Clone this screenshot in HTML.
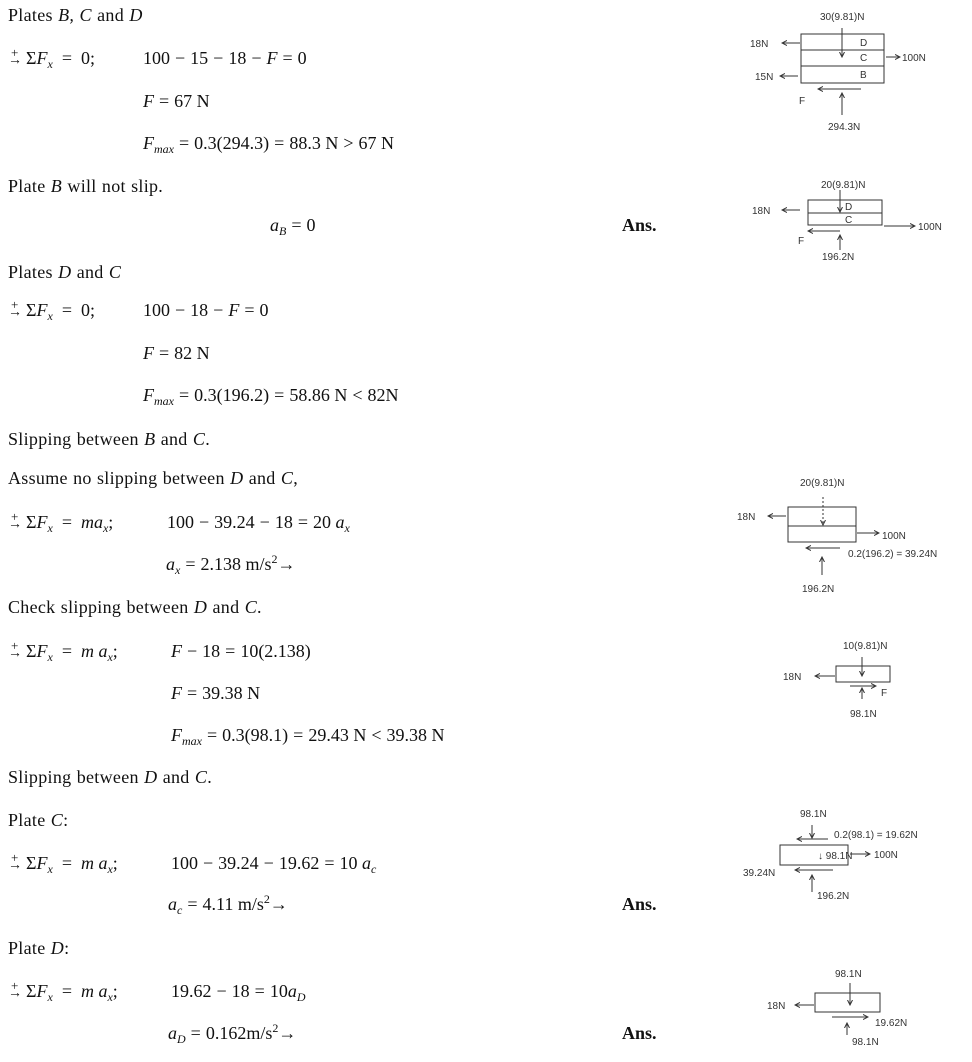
<!DOCTYPE html>
<html><head><meta charset="utf-8"><style>
body{margin:0;width:972px;height:1062px;background:#fff;position:relative;overflow:hidden;font-family:"Liberation Serif",serif;font-size:18px;color:#111}
.t{position:absolute;white-space:nowrap;line-height:22px}
.p{letter-spacing:0.3px;word-spacing:0.5px}
i{font-style:italic}
sub{font-size:12px;vertical-align:-4px;line-height:0}
sup{font-size:12px;line-height:0}
.o{margin:0 5px}
.l .o{margin:0 9px}
.sym{position:relative;display:inline-block;width:18px;font-size:14px}
.sym:before{content:"+";position:absolute;left:3px;top:-8px;font-size:13px}
b{font-weight:bold}
svg{position:absolute;left:0;top:0}
svg text{font-family:"Liberation Sans",sans-serif;font-size:10px;fill:#333}
</style></head><body>
<div class="t p" style="left:8px;top:4px">Plates <i>B, C</i> and <i>D</i></div>
<div class="t l" style="left:8px;top:47px"><span class="sym">→</span>Σ<i>F<sub>x</sub></i><span class="o">=</span>0;</div>
<div class="t" style="left:143px;top:47px">100<span class="o">−</span>15<span class="o">−</span>18<span class="o">−</span><i>F</i><span class="o">=</span>0</div>
<div class="t" style="left:143px;top:90px"><i>F</i><span class="o">=</span>67 N</div>
<div class="t" style="left:143px;top:132px"><i>F<sub>max</sub></i><span class="o">=</span>0.3(294.3)<span class="o">=</span>88.3 N<span class="o">&gt;</span>67 N</div>
<div class="t p" style="left:8px;top:175px">Plate <i>B</i> will not slip.</div>
<div class="t" style="left:270px;top:214px"><i>a<sub>B</sub></i><span class="o">=</span>0</div>
<div class="t" style="left:622px;top:214px"><b>Ans.</b></div>
<div class="t p" style="left:8px;top:261px">Plates <i>D</i> and <i>C</i></div>
<div class="t l" style="left:8px;top:299px"><span class="sym">→</span>Σ<i>F<sub>x</sub></i><span class="o">=</span>0;</div>
<div class="t" style="left:143px;top:299px">100<span class="o">−</span>18<span class="o">−</span><i>F</i><span class="o">=</span>0</div>
<div class="t" style="left:143px;top:342px"><i>F</i><span class="o">=</span>82 N</div>
<div class="t" style="left:143px;top:384px"><i>F<sub>max</sub></i><span class="o">=</span>0.3(196.2)<span class="o">=</span>58.86 N<span class="o">&lt;</span>82N</div>
<div class="t p" style="left:8px;top:428px">Slipping between <i>B</i> and <i>C</i>.</div>
<div class="t p" style="left:8px;top:467px">Assume no slipping between <i>D</i> and <i>C</i>,</div>
<div class="t l" style="left:8px;top:511px"><span class="sym">→</span>Σ<i>F<sub>x</sub></i><span class="o">=</span><i>ma<sub>x</sub></i>;</div>
<div class="t" style="left:167px;top:511px">100<span class="o">−</span>39.24<span class="o">−</span>18<span class="o">=</span>20 <i>a<sub>x</sub></i></div>
<div class="t" style="left:166px;top:553px"><i>a<sub>x</sub></i><span class="o">=</span>2.138 m/s<sup>2</sup>→</div>
<div class="t p" style="left:8px;top:596px">Check slipping between <i>D</i> and <i>C</i>.</div>
<div class="t l" style="left:8px;top:640px"><span class="sym">→</span>Σ<i>F<sub>x</sub></i><span class="o">=</span><i>m a<sub>x</sub></i>;</div>
<div class="t" style="left:171px;top:640px"><i>F</i><span class="o">−</span>18<span class="o">=</span>10(2.138)</div>
<div class="t" style="left:171px;top:682px"><i>F</i><span class="o">=</span>39.38 N</div>
<div class="t" style="left:171px;top:724px"><i>F<sub>max</sub></i><span class="o">=</span>0.3(98.1)<span class="o">=</span>29.43 N<span class="o">&lt;</span>39.38 N</div>
<div class="t p" style="left:8px;top:766px">Slipping between <i>D</i> and <i>C</i>.</div>
<div class="t p" style="left:8px;top:809px">Plate <i>C</i>:</div>
<div class="t l" style="left:8px;top:852px"><span class="sym">→</span>Σ<i>F<sub>x</sub></i><span class="o">=</span><i>m a<sub>x</sub></i>;</div>
<div class="t" style="left:171px;top:852px">100<span class="o">−</span>39.24<span class="o">−</span>19.62<span class="o">=</span>10 <i>a<sub>c</sub></i></div>
<div class="t" style="left:168px;top:893px"><i>a<sub>c</sub></i><span class="o">=</span>4.11 m/s<sup>2</sup>→</div>
<div class="t" style="left:622px;top:893px"><b>Ans.</b></div>
<div class="t p" style="left:8px;top:937px">Plate <i>D</i>:</div>
<div class="t l" style="left:8px;top:980px"><span class="sym">→</span>Σ<i>F<sub>x</sub></i><span class="o">=</span><i>m a<sub>x</sub></i>;</div>
<div class="t" style="left:171px;top:980px">19.62<span class="o">−</span>18<span class="o">=</span>10<i>a<sub>D</sub></i></div>
<div class="t" style="left:168px;top:1022px"><i>a<sub>D</sub></i><span class="o">=</span>0.162m/s<sup>2</sup>→</div>
<div class="t" style="left:622px;top:1022px"><b>Ans.</b></div>

<svg width="972" height="1062" viewBox="0 0 972 1062">
<defs><marker id="a" markerWidth="6" markerHeight="6" refX="5" refY="3" orient="auto"><path d="M0,0.5 L5,3 L0,5.5" fill="none" stroke="#333" stroke-width="1"/></marker></defs>
<g stroke="#333" stroke-width="1" fill="none">
<rect x="801" y="34" width="83" height="49"/><line x1="801" y1="50" x2="884" y2="50"/><line x1="801" y1="66" x2="884" y2="66"/>
<line x1="842" y1="28" x2="842" y2="57" marker-end="url(#a)"/>
<line x1="800" y1="43" x2="782" y2="43" marker-end="url(#a)"/>
<line x1="798" y1="76" x2="780" y2="76" marker-end="url(#a)"/>
<line x1="886" y1="57" x2="900" y2="57" marker-end="url(#a)"/>
<line x1="861" y1="89" x2="818" y2="89" marker-end="url(#a)"/>
<line x1="842" y1="115" x2="842" y2="93" marker-end="url(#a)"/>
<rect x="808" y="200" width="74" height="25"/><line x1="808" y1="213" x2="882" y2="213"/>
<line x1="840" y1="190" x2="840" y2="212" marker-end="url(#a)"/>
<line x1="800" y1="210" x2="782" y2="210" marker-end="url(#a)"/>
<line x1="884" y1="226" x2="915" y2="226" marker-end="url(#a)"/>
<line x1="840" y1="231" x2="808" y2="231" marker-end="url(#a)"/>
<line x1="840" y1="250" x2="840" y2="235" marker-end="url(#a)"/>
<rect x="788" y="507" width="68" height="35"/><line x1="788" y1="526" x2="856" y2="526"/>
<line x1="823" y1="497" x2="823" y2="525" stroke-dasharray="2,2" marker-end="url(#a)"/>
<line x1="786" y1="516" x2="768" y2="516" marker-end="url(#a)"/>
<line x1="857" y1="533" x2="879" y2="533" marker-end="url(#a)"/>
<line x1="840" y1="548" x2="806" y2="548" marker-end="url(#a)"/>
<line x1="822" y1="575" x2="822" y2="557" marker-end="url(#a)"/>
<rect x="836" y="666" width="54" height="16"/>
<line x1="862" y1="657" x2="862" y2="676" marker-end="url(#a)"/>
<line x1="835" y1="676" x2="815" y2="676" marker-end="url(#a)"/>
<line x1="850" y1="686" x2="876" y2="686" marker-end="url(#a)"/>
<line x1="862" y1="699" x2="862" y2="688" marker-end="url(#a)"/>
<rect x="780" y="845" width="68" height="20"/>
<line x1="812" y1="825" x2="812" y2="838" marker-end="url(#a)"/>
<line x1="828" y1="839" x2="797" y2="839" marker-end="url(#a)"/>
<line x1="850" y1="854" x2="870" y2="854" marker-end="url(#a)"/>
<line x1="833" y1="870" x2="795" y2="870" marker-end="url(#a)"/>
<line x1="812" y1="892" x2="812" y2="875" marker-end="url(#a)"/>
<rect x="815" y="993" width="65" height="19"/>
<line x1="850" y1="983" x2="850" y2="1005" marker-end="url(#a)"/>
<line x1="814" y1="1005" x2="795" y2="1005" marker-end="url(#a)"/>
<line x1="832" y1="1017" x2="868" y2="1017" marker-end="url(#a)"/>
<line x1="847" y1="1035" x2="847" y2="1023" marker-end="url(#a)"/>
</g>
<g>
<text x="820" y="20">30(9.81)N</text><text x="860" y="46" font-size="8">D</text><text x="860" y="61" font-size="8">C</text><text x="860" y="78" font-size="8">B</text>
<text x="750" y="47">18N</text><text x="755" y="80">15N</text><text x="902" y="61">100N</text><text x="799" y="104">F</text><text x="828" y="130">294.3N</text>
<text x="821" y="188">20(9.81)N</text><text x="845" y="210" font-size="8">D</text><text x="845" y="223" font-size="8">C</text>
<text x="752" y="214">18N</text><text x="918" y="230">100N</text><text x="798" y="244">F</text><text x="822" y="260">196.2N</text>
<text x="800" y="486">20(9.81)N</text><text x="737" y="520">18N</text><text x="882" y="539">100N</text><text x="848" y="557">0.2(196.2) = 39.24N</text><text x="802" y="592">196.2N</text>
<text x="843" y="649">10(9.81)N</text><text x="783" y="680">18N</text><text x="881" y="696">F</text><text x="850" y="717">98.1N</text>
<text x="800" y="817">98.1N</text><text x="834" y="838">0.2(98.1) = 19.62N</text><text x="818" y="859" font-size="8">↓ 98.1N</text><text x="874" y="858">100N</text><text x="743" y="876">39.24N</text><text x="817" y="899">196.2N</text>
<text x="835" y="977">98.1N</text><text x="767" y="1009">18N</text><text x="875" y="1026">19.62N</text><text x="852" y="1045">98.1N</text>
</g>
</svg>
</body></html>
